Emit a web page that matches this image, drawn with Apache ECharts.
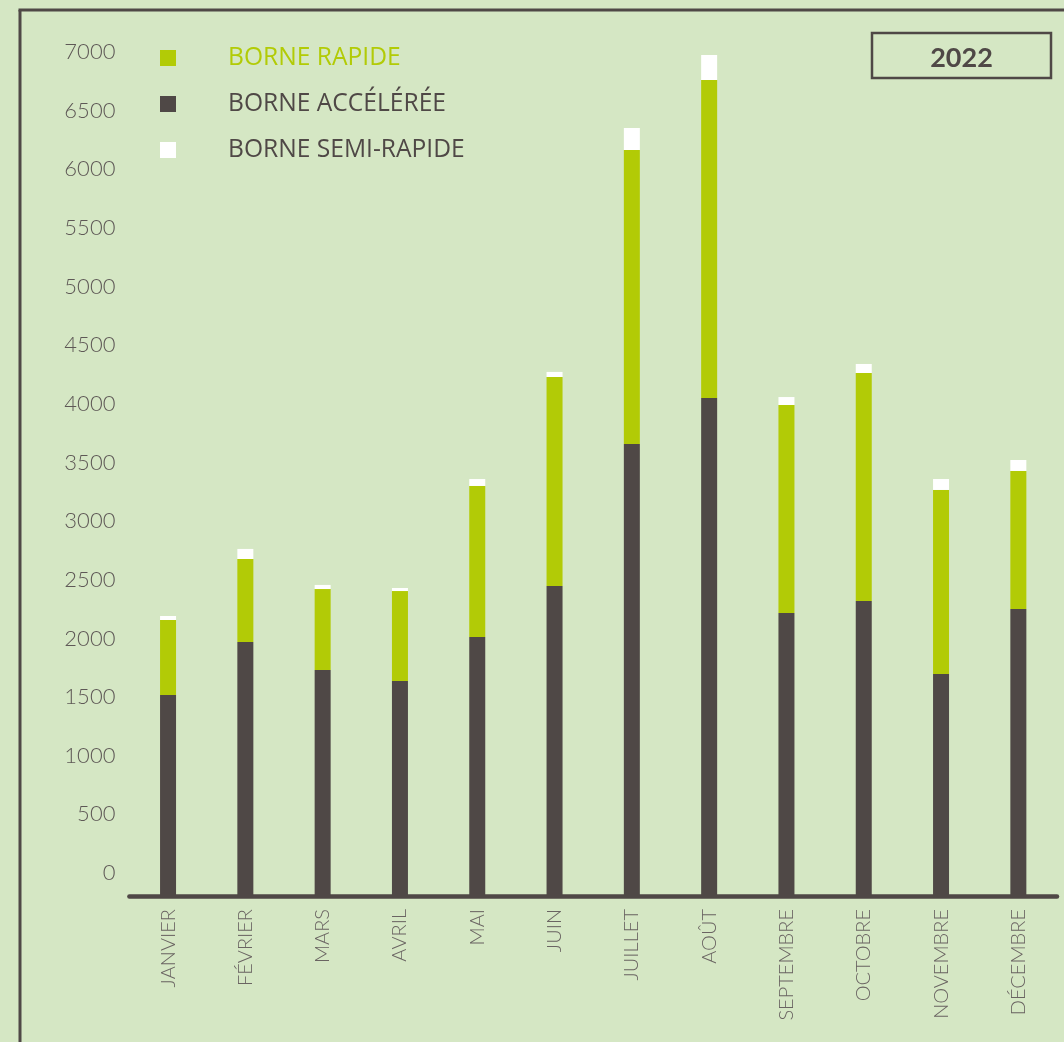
<!DOCTYPE html>
<html>
<head>
<meta charset="utf-8">
<script src="https://cdn.jsdelivr.net/npm/echarts@6/dist/echarts.min.js"></script>
<style>
html,body{margin:0;padding:0;background:#d5e7c4;}
#chart{width:1064px;height:1042px;}
</style>
</head>
<body>
<div id="chart"></div>
<script>
var months = ['JANVIER','FÉVRIER','MARS','AVRIL','MAI','JUIN','JUILLET','AOÛT','SEPTEMBRE','OCTOBRE','NOVEMBRE','DÉCEMBRE'];
var borneAcceleree = [1714, 2166, 1927, 1833, 2208, 2643, 3854, 4246, 2413, 2515, 1893, 2447];
var borneRapide    = [639, 707, 690, 767, 1288, 1782, 2506, 2711, 1773, 1944, 1569, 1177];
var borneSemiRapide= [34, 86, 35, 26, 59, 43, 188, 213, 68, 77, 93, 93];
var yearLabel = '2022';
var yTicks = [0,500,1000,1500,2000,2500,3000,3500,4000,4500,5000,5500,6000,6500,7000];

var DARK = '#4f4846', GREEN = '#b2cb06', WHITE = '#ffffff';
var chart = echarts.init(document.getElementById('chart'));
chart.setOption({
  backgroundColor: '#d5e7c4',
  animation: false,
  grid: {left: 129.4, right: 7, top: 51.5, bottom: 146, containLabel: false},
  legend: {
    orient: 'vertical', left: 160, top: 44, padding: 0, itemWidth: 16, itemHeight: 16, itemGap: 18,
    icon: 'rect',
    textStyle: {fontFamily: 'Open Sans', fontSize: 24.6, lineHeight: 28, color: DARK, padding: [0,0,0,47]},
    data: [
      {name: 'BORNE RAPIDE', textStyle: {color: GREEN}},
      {name: 'BORNE ACCÉLÉRÉE'},
      {name: 'BORNE SEMI-RAPIDE'}
    ]
  },
  xAxis: {
    type: 'category', data: months,
    axisLine: {lineStyle: {color: DARK, width: 4.5}},
    axisTick: {show: false},
    axisLabel: {rotate: 90, margin: 13, fontFamily: 'Lato', fontWeight: 300, fontSize: 20, color: '#6a6462', interval: 0}
  },
  yAxis: {
    type: 'value', min: 0, max: 7200, interval: 500,
    axisLine: {show: false}, axisTick: {show: false}, splitLine: {show: false},
    axisLabel: {
      showMinLabel: true, hideOverlap: false,
      margin: 14, fontFamily: 'Lato', fontWeight: 300, fontSize: 22, color: '#5e5856',
      lineHeight: 46, verticalAlign: 'bottom',
      formatter: function(v){ return yTicks.indexOf(v) >= 0 ? String(v) : ''; }
    }
  },
  series: [
    {name: 'BORNE ACCÉLÉRÉE', type: 'bar', stack: 's', barWidth: 16, data: borneAcceleree, itemStyle: {color: DARK}},
    {name: 'BORNE RAPIDE', type: 'bar', stack: 's', barWidth: 16, data: borneRapide, itemStyle: {color: GREEN}},
    {name: 'BORNE SEMI-RAPIDE', type: 'bar', stack: 's', barWidth: 16, data: borneSemiRapide, itemStyle: {color: WHITE}}
  ],
  graphic: [
    {type: 'line', shape: {x1: 20, y1: 10, x2: 20, y2: 1042}, style: {stroke: DARK, lineWidth: 3}},
    {type: 'line', shape: {x1: 18.5, y1: 10, x2: 1064, y2: 10}, style: {stroke: DARK, lineWidth: 3}},
    {type: 'rect', shape: {x: 872, y: 33, width: 179, height: 45}, style: {fill: 'none', stroke: DARK, lineWidth: 2.5}},
    {type: 'text', x: 961.5, y: 58.5, style: {text: yearLabel, fontFamily: 'Lato', fontWeight: 'bold', fontSize: 27, fill: DARK, align: 'center', verticalAlign: 'middle'}}
  ]
});
</script>
</body>
</html>
